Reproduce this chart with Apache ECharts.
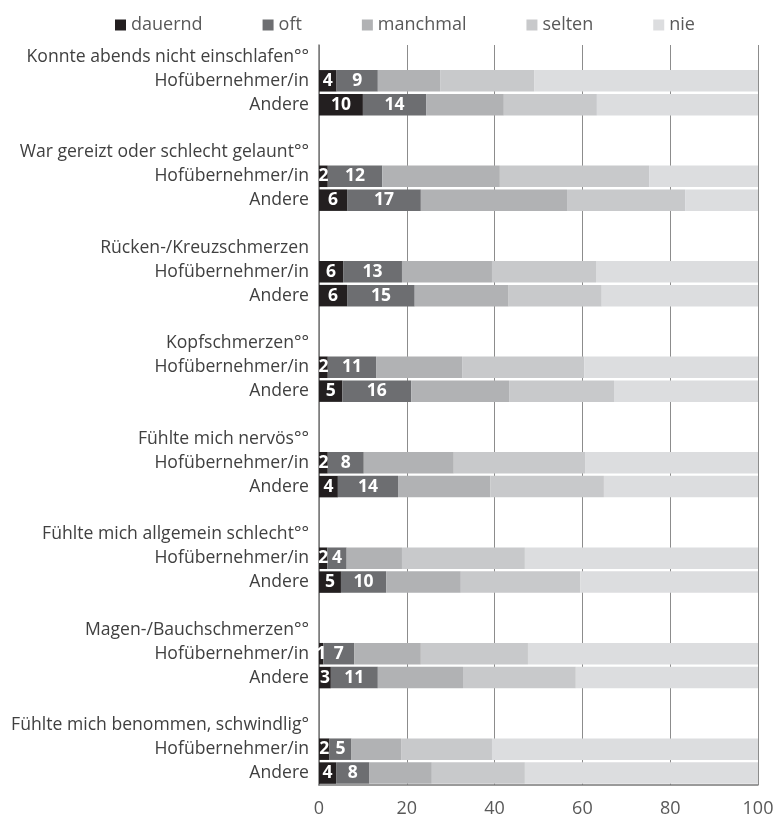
<!DOCTYPE html>
<html><head><meta charset="utf-8">
<script src="https://cdn.jsdelivr.net/npm/echarts@6/dist/echarts.min.js"></script>
<style>html,body{margin:0;padding:0;background:#fff}#c{width:781px;height:822px}</style>
</head><body><div id="c"></div>
<script>
const groups = [
  "Konnte abends nicht einschlafen°°",
  "War gereizt oder schlecht gelaunt°°",
  "Rücken-/Kreuzschmerzen",
  "Kopfschmerzen°°",
  "Fühlte mich nervös°°",
  "Fühlte mich allgemein schlecht°°",
  "Magen-/Bauchschmerzen°°",
  "Fühlte mich benommen, schwindlig°"
];
const subgroups = ["Hofübernehmer/in", "Andere"];
const seriesNames = ["dauernd", "oft", "manchmal", "selten", "nie"];
// order: per group Hofübernehmer/in, Andere
const dauernd  = [4.0, 10.0, 2.0, 6.4, 5.5, 6.4, 2.0, 5.3, 2.0, 4.3, 1.9, 5.0, 1.0, 2.7, 2.4, 3.9];
const oft      = [9.4, 14.4, 12.4, 16.8, 13.4, 15.4, 11.0, 15.7, 8.2, 13.7, 4.4, 10.3, 7.0, 10.7, 5.0, 7.6];
const manchmal = [14.2, 17.7, 26.8, 33.3, 20.5, 21.4, 19.6, 22.3, 20.5, 21.0, 12.6, 17.0, 15.2, 19.4, 11.3, 14.2];
const selten   = [21.4, 21.2, 34.0, 26.9, 23.7, 21.2, 27.8, 23.9, 29.9, 25.9, 28.0, 27.2, 24.4, 25.7, 20.7, 21.2];
const nie      = [51.0, 36.7, 24.8, 16.6, 36.9, 35.6, 39.6, 32.8, 39.4, 35.1, 53.1, 40.5, 52.4, 41.5, 60.6, 53.1];
const xTicks = [0, 20, 40, 60, 80, 100];

const colors = ["#231f20", "#6d6e71", "#b1b2b4", "#c8c9cb", "#dcdddf"];
const FONT = "Open Sans";

// Build category rows: header, Hof, Andere, blank (no blank after last)
const cats = [];
const rowMap = []; // index into value arrays or -1
groups.forEach((g, gi) => {
  cats.push(g); rowMap.push(-1);
  subgroups.forEach((s, si) => { cats.push(s + "\u200B".repeat(gi)); rowMap.push(gi * 2 + si); });
  if (gi < groups.length - 1) { cats.push("\u00A0".repeat(gi + 1)); rowMap.push(-1); }
});
const valueArrays = [dauernd, oft, manchmal, selten, nie];

const series = seriesNames.map((name, k) => ({
  name,
  type: "bar",
  stack: "total",
  barWidth: 21.5,
  itemStyle: { color: colors[k] },
  emphasis: { disabled: true },
  label: {
    show: k < 2,
    position: "inside",
    color: "#ffffff",
    fontFamily: FONT,
    fontWeight: "bold",
    fontSize: 17.5,
    formatter: p => String(Math.round(p.value))
  },
  data: rowMap.map(i => i < 0 ? "-" : valueArrays[k][i])
}));

const chart = echarts.init(document.getElementById("c"), null, { renderer: "canvas" });
chart.setOption({
  animation: false,
  backgroundColor: "#ffffff",
  textStyle: { fontFamily: FONT },
  color: colors,
  legend: {
    top: 11,
    left: 110,
    icon: "rect",
    itemWidth: 11,
    itemHeight: 11,
    itemGap: 60,
    data: seriesNames,
    textStyle: { color: "#595959", fontSize: 18, fontFamily: FONT }
  },
  grid: { left: 319, right: 23, top: 45, bottom: 37, containLabel: false },
  xAxis: {
    type: "value",
    min: 0, max: 100, interval: 20,
    axisLine: { show: true, lineStyle: { color: "#7a7a7a", width: 1.5 } },
    axisTick: { show: false },
    splitLine: { show: true, lineStyle: { color: "#8c8c8c", width: 1 } },
    axisLabel: { color: "#595959", fontSize: 18, fontFamily: FONT, margin: 15,
      formatter: v => xTicks.includes(v) ? String(v) : "" }
  },
  yAxis: {
    type: "category",
    inverse: true,
    data: cats,
    axisLine: { show: true, lineStyle: { color: "#7a7a7a", width: 1.5 } },
    axisTick: { show: false },
    splitLine: { show: false },
    axisLabel: { color: "#404040", fontSize: 17.6, fontFamily: FONT, margin: 10, interval: 0,
      formatter: v => v.replace(/\u200B/g, "").trim() }
  },
  series
});
</script></body></html>
